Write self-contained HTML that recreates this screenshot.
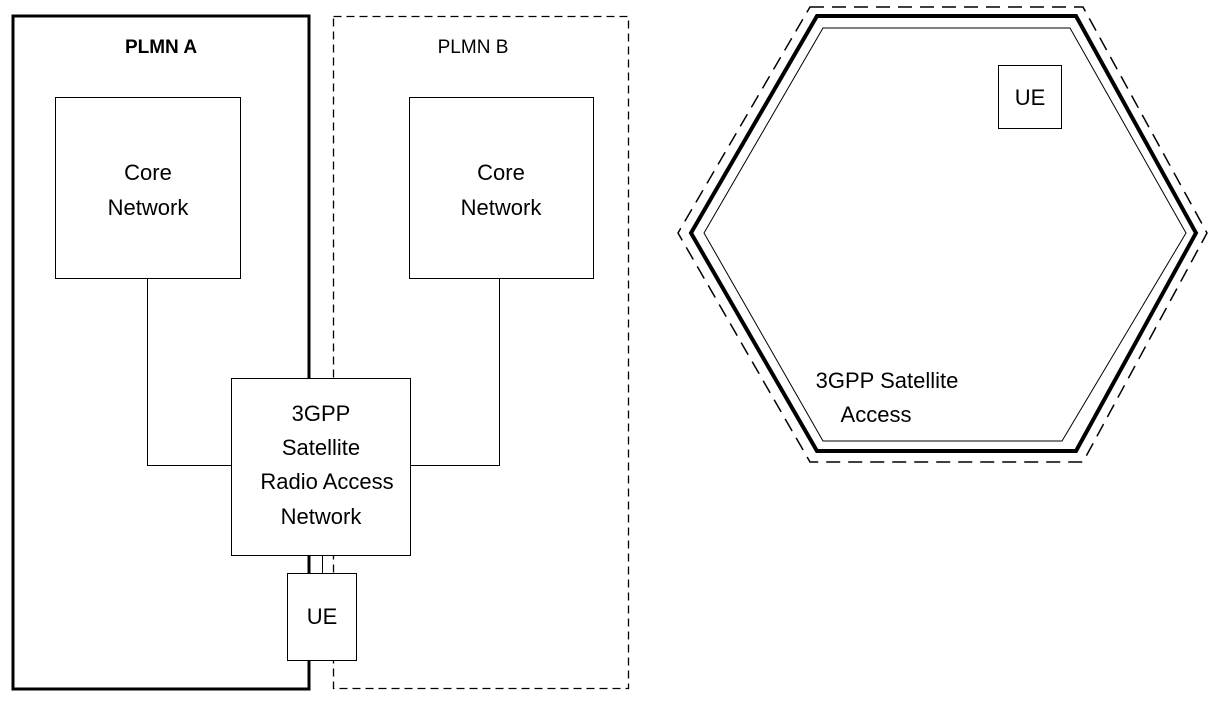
<!DOCTYPE html>
<html><head><style>body{margin:0;background:#fff}</style></head><body>
<svg width="1214" height="698" xmlns="http://www.w3.org/2000/svg" font-family="Liberation Sans, sans-serif">
<rect width="1214" height="698" fill="#fff"/>
<rect x="13" y="16" width="296" height="673" fill="none" stroke="#000" stroke-width="3"/>
<rect x="333.5" y="16.5" width="295" height="672" fill="none" stroke="#000" stroke-width="1.3" stroke-dasharray="8,5"/>
<text x="161" y="53" font-size="19" font-weight="bold" text-anchor="middle">PLMN A</text>
<text x="473" y="53" font-size="19" text-anchor="middle">PLMN B</text>
<rect x="55.5" y="97.5" width="185" height="181" fill="#fff" stroke="#000"/>
<text x="148" y="180" font-size="22" text-anchor="middle">Core</text>
<text x="148" y="215" font-size="22" text-anchor="middle">Network</text>
<rect x="409.5" y="97.5" width="184" height="181" fill="#fff" stroke="#000"/>
<text x="501" y="180" font-size="22" text-anchor="middle">Core</text>
<text x="501" y="215" font-size="22" text-anchor="middle">Network</text>
<polyline points="147.5,278 147.5,465.5 231,465.5" fill="none" stroke="#000"/>
<polyline points="499.5,278 499.5,465.5 410,465.5" fill="none" stroke="#000"/>
<rect x="231.5" y="378.5" width="179" height="177" fill="#fff" stroke="#000"/>
<text x="321" y="421" font-size="22" text-anchor="middle">3GPP</text>
<text x="321" y="455" font-size="22" text-anchor="middle">Satellite</text>
<text x="327" y="489" font-size="22" text-anchor="middle">Radio Access</text>
<text x="321" y="524" font-size="22" text-anchor="middle">Network</text>
<line x1="322.5" y1="556" x2="322.5" y2="573" stroke="#000"/>
<rect x="287.5" y="573.5" width="69" height="87" fill="#fff" stroke="#000"/>
<text x="322" y="624" font-size="22" text-anchor="middle">UE</text>
<polygon points="817,16 1076,16 1196,233 1076,451 817,451 691,233" fill="none" stroke="#000" stroke-width="4"/>
<polygon points="810,7 1083,7 1207,233 1083,462 810,462 678,233" fill="none" stroke="#000" stroke-width="1.5" stroke-dasharray="14,8"/>
<polygon points="823,28 1070,28 1186,233 1062,441 823,441 704,233" fill="none" stroke="#000" stroke-width="1"/>
<rect x="998.5" y="65.5" width="63" height="63" fill="#fff" stroke="#000"/>
<text x="1030" y="105" font-size="22" text-anchor="middle">UE</text>
<text x="887" y="388" font-size="22" text-anchor="middle">3GPP Satellite</text>
<text x="876" y="422" font-size="22" text-anchor="middle">Access</text>
</svg>
</body></html>
